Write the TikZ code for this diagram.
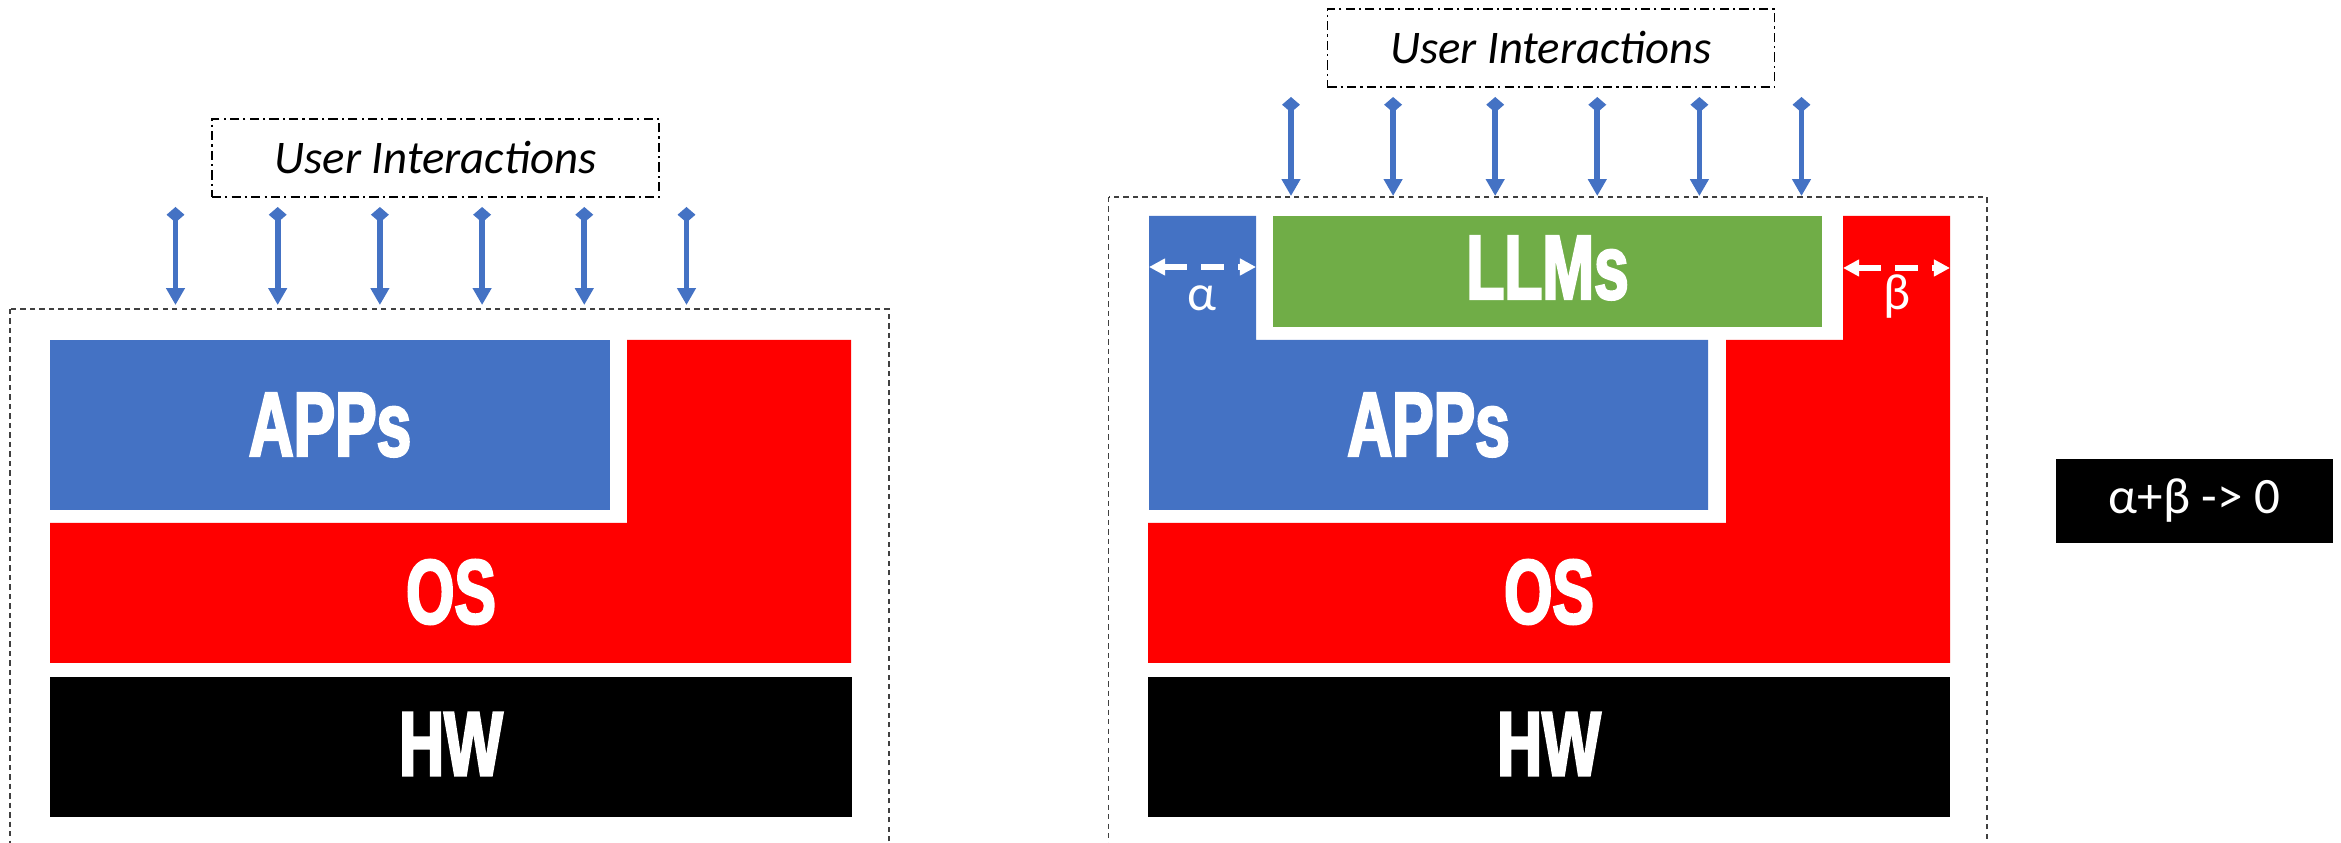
\documentclass[tikz,border=0pt]{standalone}
\usepackage{fontspec}
\usetikzlibrary{arrows.meta}
\setmainfont{Carlito}
\newfontfamily\heavyfont[FakeStretch=0.68,FakeBold=2.5]{Liberation Sans}
\definecolor{cblue}{HTML}{4472C4}
\definecolor{cred}{HTML}{FF0000}
\definecolor{cgreen}{HTML}{70AD47}
\definecolor{cdash}{HTML}{404040}
\tikzset{
  outerbox/.style={draw=cdash,line width=0.45pt,dash pattern=on 1.5pt off 1.2pt},
  uibox/.style={draw=black,line width=0.45pt,dash pattern=on 2.6pt off 1.2pt on 0.6pt off 1.2pt,
    minimum width=4.47cm,minimum height=0.78cm,inner sep=0pt,
    font=\fontsize{13.3}{14}\selectfont\itshape},
  uiarrow/.style={draw=cblue,line width=1.6pt,
    {Diamond[length=4.4pt,width=5.1pt]}-{Triangle[length=4.8pt,width=5.1pt]}},
  blocklabel/.style={text=white,inner sep=0pt,font=\heavyfont\bfseries\fontsize{26}{26}\selectfont},
  greek/.style={text=white,inner sep=0pt,font=\fontsize{14.5}{15}\selectfont},
  gaparrow/.style={draw=white,line width=1.8pt,dash pattern=on 6.5pt off 4pt,
    {Triangle[length=4.6pt,width=4.6pt]}-{Triangle[length=4.6pt,width=4.6pt]}},
}
\begin{document}
\begin{tikzpicture}[x=0.01cm,y=-0.01cm]
\useasboundingbox (0,0) rectangle (2341,843);
\begin{scope}
\clip (0,0) rectangle (2341,843);
% ---------- left stack ----------
\draw[outerbox] (10,309) rectangle (889,900);
\node[uibox] (uiL) at (435.5,158) {User Interactions};
\foreach \i in {0,...,5} {
  \coordinate (aLt\i) at ({175.5+102.2*\i},207);
  \coordinate (aLb\i) at ({175.5+102.2*\i},305);
  \draw[uiarrow] (aLt\i) -- (aLb\i);
}
\node[fill=cblue,minimum width=5.6cm,minimum height=1.7cm,inner sep=0pt] (appsLbox) at (330,425) {};
\node[blocklabel] (appsL) at (appsLbox.center) {APPs};
\fill[cred] (627,340) -- (851,340) -- (851,663) -- (50,663) -- (50,523) -- (627,523) -- cycle;
\node[blocklabel] (osL) at (451,592) {OS};
\node[fill=black,minimum width=8.02cm,minimum height=1.4cm,inner sep=0pt] (hwLbox) at (451,747) {};
\node[blocklabel] (hwL) at (451,744) {HW};
% ---------- right stack ----------
\draw[outerbox] (1108.6,197) rectangle (1987,900);
\node[uibox] (uiR) at (1551,48) {User Interactions};
\foreach \i in {0,...,5} {
  \coordinate (aRt\i) at ({1291+102.1*\i},97);
  \coordinate (aRb\i) at ({1291+102.1*\i},196);
  \draw[uiarrow] (aRt\i) -- (aRb\i);
}
\fill[cblue] (1149,216) -- (1256,216) -- (1256,340) -- (1708,340) -- (1708,510) -- (1149,510) -- cycle;
\node[blocklabel] (appsR) at (1428.5,425) {APPs};
\node[fill=cgreen,minimum width=5.49cm,minimum height=1.11cm,inner sep=0pt] (llmbox) at (1547.5,271.5) {};
\node[blocklabel] (llm) at (1547.5,268) {LLMs};
\fill[cred] (1843,216) -- (1950,216) -- (1950,663) -- (1148,663) -- (1148,523) -- (1726,523) -- (1726,340) -- (1843,340) -- cycle;
\node[blocklabel] (osR) at (1549,592) {OS};
\node[fill=black,minimum width=8.02cm,minimum height=1.4cm,inner sep=0pt] (hwRbox) at (1549,747) {};
\node[blocklabel] (hwR) at (1549,744) {HW};
% gaps
\coordinate (ga1) at (1149,267);
\coordinate (ga2) at (1256,267);
\draw[gaparrow] (ga1) -- (ga2);
\node[greek] (alpha) at (1202,298) {α};
\coordinate (gb1) at (1843,268);
\coordinate (gb2) at (1950,268);
\draw[gaparrow] (gb1) -- (gb2);
\node[greek] (beta) at (1897,297) {β};
% formula
\node[fill=black,text=white,minimum width=2.77cm,minimum height=0.84cm,inner sep=0pt,
  font=\fontsize{14.5}{15}\selectfont] (formula) at (2194.5,501) {α+β -> 0};
\end{scope}
\end{tikzpicture}
\end{document}
